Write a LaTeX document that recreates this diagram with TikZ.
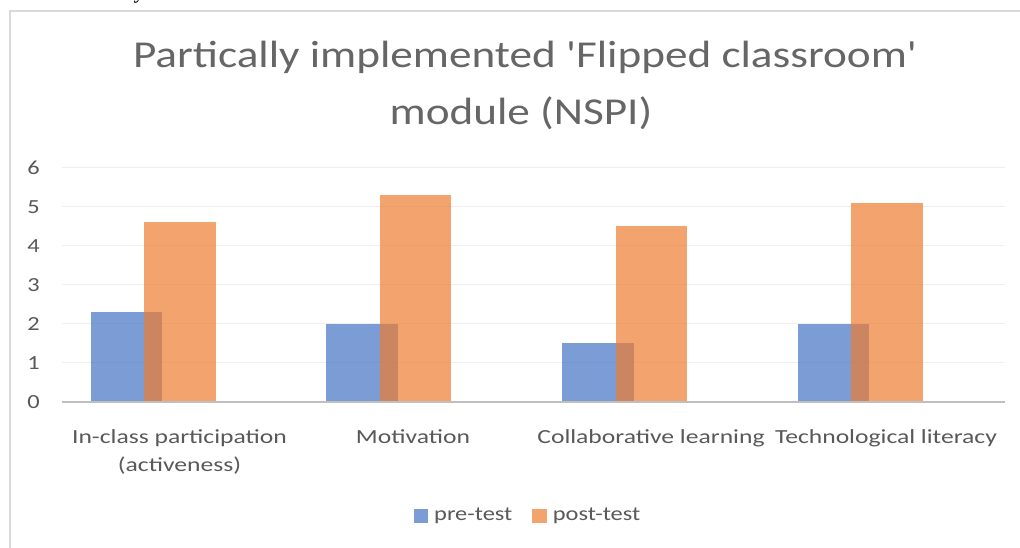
\documentclass[tikz,border=0pt]{standalone}
\usepackage{fontspec}
\setmainfont{Carlito}[FakeStretch=1.22]
\newfontfamily\titlefont{Carlito}[FakeStretch=1.19]
\newfontfamily\catfont{Carlito}[FakeStretch=1.28]
\newfontfamily\serifcut{Liberation Serif}
\definecolor{txtgray}{HTML}{595959}
\definecolor{titlegray}{HTML}{666666}
\definecolor{framegray}{HTML}{D9D9D9}
\definecolor{gridgray}{HTML}{EFEFEF}
\definecolor{axisgray}{HTML}{BFBFBF}
\definecolor{preblue}{HTML}{4472C4}
\definecolor{postorange}{HTML}{ED7D31}
\tikzset{
  prebar/.style={fill=preblue, fill opacity=0.7, draw=none},
  postbar/.style={fill=postorange, fill opacity=0.7, draw=none},
  gridline/.style={draw=gridgray, line width=1.3pt},
  ylab/.style={anchor=east, text=txtgray, font=\fontsize{20}{24}\selectfont, inner sep=0pt},
  catlab/.style={anchor=base, text=txtgray, font=\catfont\fontsize{20}{24}\selectfont, inner sep=0pt},
  legtext/.style={anchor=west, text=txtgray, font=\fontsize{20}{24}\selectfont, inner sep=0pt},
  titletext/.style={anchor=base, text=titlegray, font=\titlefont\fontsize{38}{44}\selectfont, inner sep=0pt},
}
\begin{document}
\begin{tikzpicture}[x=1pt,y=-1pt]
\useasboundingbox (0,0) rectangle (1020,548);
\fill[white] (0,0) rectangle (1020,548);
% cut-off text at top
\node[anchor=base, inner sep=0pt, font=\serifcut\fontsize{22}{24}\selectfont] (cut) at (139,-1) {y};
% frame
\draw[framegray, line width=1.2pt] (10,548) -- (10,11) -- (1020,11);
% title
\node[titletext] (title1) at (525,68) {Partically implemented 'Flipped classroom'};
\node[titletext] (title2) at (521,125) {module (NSPI)};
% grid and y labels
\foreach \v in {1,...,6} {
  \draw[gridline] (62,{401.7-39*\v}) -- (1005,{401.7-39*\v});
}
\foreach \v in {0,...,6} {
  \node[ylab] (y\v) at (40,{401.7-39*\v}) {\v};
}
% bars
\foreach \c/\pre/\post [count=\i] in {179.9/2.3/4.6, 415.6/2.0/5.3, 651.3/1.5/4.5, 887/2.0/5.1} {
  \fill[prebar] ({\c-53.5-35.7},401.7) rectangle ({\c-53.5+35.7},{401.7-39*\pre});
  \fill[postbar] ({\c-35.7},401.7) rectangle ({\c+35.7},{401.7-39*\post});
}
% axis
\draw[axisgray, line width=2.4pt] (62,401.7) -- (1005,401.7);
% category labels
\node[catlab] (c1a) at (179.5,443) {In-class participation};
\node[catlab] (c1b) at (179.5,471) {(activeness)};
\node[catlab] (c2) at (413,443) {Motivation};
\node[catlab] (c3) at (651,443) {Collaborative learning};
\node[catlab] (c4) at (886,443) {Technological literacy};
% legend
\fill[preblue, fill opacity=0.7] (414,509) rectangle (428.3,523.3);
\node[legtext] (l1) at (434,516) {pre-test};
\fill[postorange, fill opacity=0.7] (532.3,509) rectangle (546.7,523.3);
\node[legtext] (l2) at (552.7,516) {post-test};
\end{tikzpicture}
\end{document}
